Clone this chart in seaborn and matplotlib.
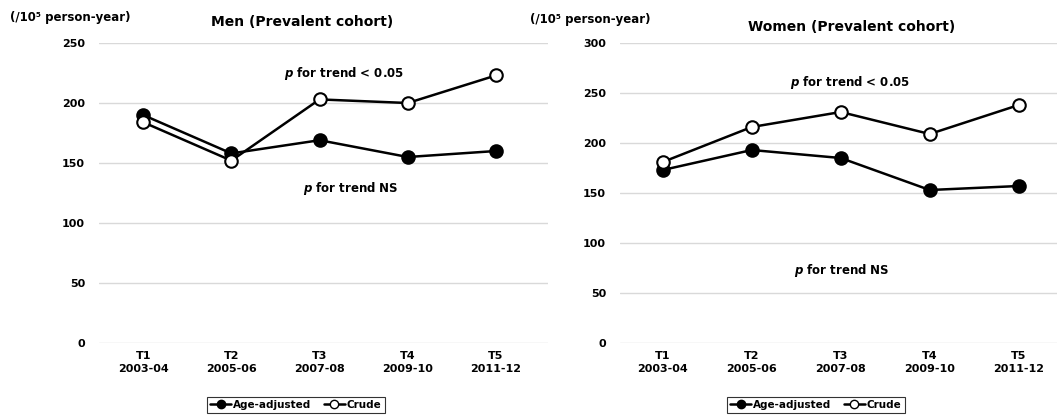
import pandas as pd
import matplotlib
matplotlib.use("Agg")
import matplotlib.pyplot as plt
import seaborn as sns
from matplotlib.lines import Line2D

periods = ["T1\n2003-04", "T2\n2005-06", "T3\n2007-08", "T4\n2009-10", "T5\n2011-12"]
men_adjusted   = [190, 158, 169, 155, 160]
men_crude      = [184, 152, 203, 200, 223]
women_adjusted = [173, 193, 185, 153, 157]
women_crude    = [181, 216, 231, 209, 238]

sns.set_style("white")
plt.rcParams["font.family"] = ["DejaVu Sans"]
plt.rcParams["font.weight"] = "bold"
plt.rcParams["text.color"] = "black"
plt.rcParams["xtick.color"] = "black"
plt.rcParams["ytick.color"] = "black"

fig = plt.figure(figsize=(10.57, 4.2), dpi=100)
ax_m = fig.add_axes([0.0937, 0.1833, 0.4248, 0.7143])
ax_w = fig.add_axes([0.5866, 0.1833, 0.4134, 0.7143])

def draw_panel(ax, adjusted, crude, ymax, xlim):
    df = pd.DataFrame({"x": range(len(periods)), "adj": adjusted, "crude": crude})
    sns.lineplot(data=df, x="x", y="adj", ax=ax, color="black", linewidth=1.8,
                 marker="o", markersize=9, markerfacecolor="black",
                 markeredgecolor="black", markeredgewidth=1.5, zorder=3)
    sns.lineplot(data=df, x="x", y="crude", ax=ax, color="black", linewidth=1.8,
                 marker="o", markersize=9, markerfacecolor="white",
                 markeredgecolor="black", markeredgewidth=1.5, zorder=4)
    ax.set_ylim(0, ymax)
    ax.set_yticks(range(0, ymax + 1, 50))
    ax.set_xlim(*xlim)
    ax.set_xticks(range(len(periods)))
    ax.set_xticklabels(periods, fontsize=8, fontweight="bold", linespacing=1.3)
    ax.tick_params(axis="y", labelsize=8, length=0, pad=10)
    ax.tick_params(axis="x", length=0, pad=6)
    ax.grid(axis="y", color="#d9d9d9", linewidth=1)
    ax.set_axisbelow(True)
    for s in ax.spines.values():
        s.set_visible(False)
    ax.set_xlabel("")
    ax.set_ylabel("")

draw_panel(ax_m, men_adjusted, men_crude, 250, (-0.5, 4.59))
draw_panel(ax_w, women_adjusted, women_crude, 300, (-0.48, 4.43))

ann = dict(fontsize=8.5, fontweight="bold", ha="center", va="center")
ax_m.text(2.28, 225, r"$\boldsymbol{p}$ for trend < 0.05", **ann)
ax_m.text(2.35, 129, r"$\boldsymbol{p}$ for trend NS", **ann)
ax_w.text(2.10, 261, r"$\boldsymbol{p}$ for trend < 0.05", **ann)
ax_w.text(2.01, 73, r"$\boldsymbol{p}$ for trend NS", **ann)

fig.text(10 / 1057, 1 - 17 / 420, "(/10\u2075 person-year)", fontsize=8.5,
         fontweight="bold", ha="left", va="center")
fig.text(530 / 1057, 1 - 20 / 420, "(/10\u2075 person-year)", fontsize=8.5,
         fontweight="bold", ha="left", va="center")
fig.text(302 / 1057, 1 - 22 / 420, "Men (Prevalent cohort)", fontsize=10,
         fontweight="bold", ha="center", va="center")
fig.text(852 / 1057, 1 - 27 / 420, "Women (Prevalent cohort)", fontsize=10,
         fontweight="bold", ha="center", va="center")

handles = [
    Line2D([], [], color="black", linewidth=1.8, marker="o", markersize=6,
           markerfacecolor="black", markeredgecolor="black"),
    Line2D([], [], color="black", linewidth=1.8, marker="o", markersize=6,
           markerfacecolor="white", markeredgecolor="black"),
]
labels = ["Age-adjusted", "Crude"]
for cx in (296 / 1057, 816 / 1057):
    leg = fig.legend(handles, labels, loc="center", bbox_to_anchor=(cx, 0.036),
                     ncol=2, frameon=True, fancybox=False, edgecolor="black",
                     handlelength=2.0, handletextpad=0.2, columnspacing=1.2,
                     borderpad=0.3, prop={"weight": "bold", "size": 7.5})
    leg.get_frame().set_linewidth(0.8)

fig.savefig("out.png", dpi=100)
